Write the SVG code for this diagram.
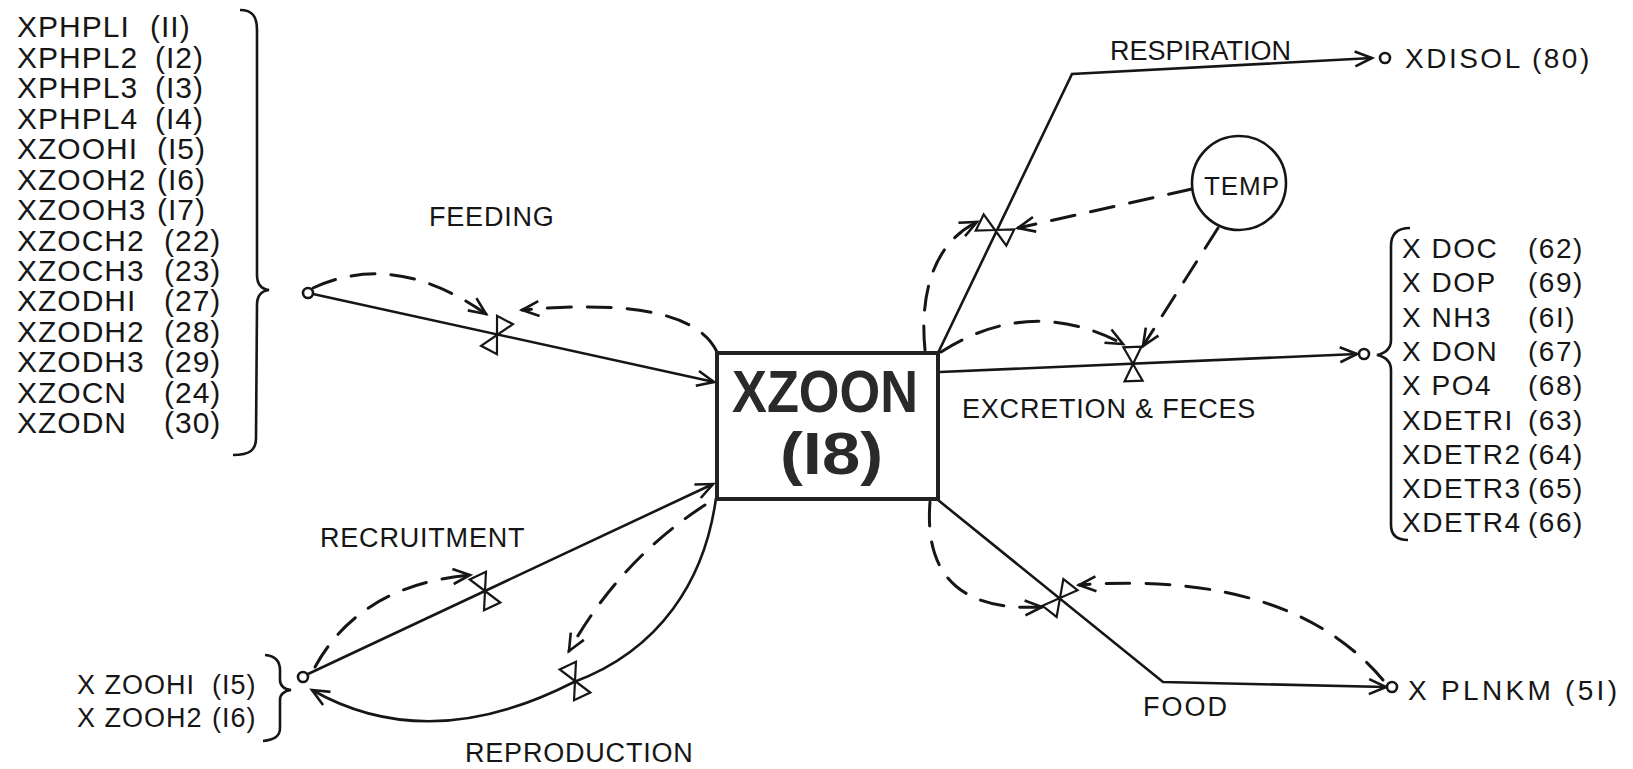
<svg xmlns="http://www.w3.org/2000/svg" xmlns:xlink="http://www.w3.org/1999/xlink" width="1633" height="769" viewBox="0 0 1633 769">
<style>
  text { font-family: "Liberation Sans", Arial, sans-serif; fill: #161616; }
  .lst { font-size: 30px; letter-spacing: 1px; }
  .rl { font-size: 28px; letter-spacing: 1.5px; }
  .lbl { font-size: 27px; letter-spacing: 0.8px; }
  .big { font-size: 60px; font-weight: bold; fill: #2a2a2a; }
  .flow { fill: none; stroke: #161616; stroke-width: 2.6; stroke-linejoin: miter; }
  .info { fill: none; stroke: #161616; stroke-width: 3; stroke-dasharray: 24 16; stroke-linecap: round; }
  .brace { fill: none; stroke: #161616; stroke-width: 2.6; }
  .src { fill: #fff; stroke: #161616; stroke-width: 2.6; }
  .valve { fill: #fff; stroke: #161616; stroke-width: 2.2; stroke-linejoin: miter; }
</style>
<defs>
  <marker id="arr" markerWidth="22" markerHeight="18" refX="19" refY="9" orient="auto" markerUnits="userSpaceOnUse">
    <path d="M2,1.5 L19,9 L2,16.5" fill="none" stroke="#161616" stroke-width="2.6"/>
  </marker>
  <g id="vsym">
    <path class="valve" d="M0,0 L-9,-17 L9,-17 Z"/>
    <path class="valve" d="M0,0 L-9,17 L9,17 Z"/>
  </g>
</defs>
<rect width="1633" height="769" fill="#fff"/>

<!-- connectors -->
<g id="connectors">
  <!-- solid flows -->
  <path class="flow" d="M313,294 L714,382" marker-end="url(#arr)"/>
  <path class="flow" d="M938,353 L1072,74 L1372,58" marker-end="url(#arr)"/>
  <path class="flow" d="M940,372 L1357,354" marker-end="url(#arr)"/>
  <path class="flow" d="M938,500 L1163,682 L1386,687" marker-end="url(#arr)"/>
  <path class="flow" d="M308,674 L713,484" marker-end="url(#arr)"/>
  <path class="flow" d="M716,498 C705,580 660,650 574,682 C490,725 400,740 312,690" marker-end="url(#arr)"/>
  <!-- dashed information links -->
  <path class="info" d="M313,288 Q395,250 486,314" marker-end="url(#arr)"/>
  <path class="info" d="M717,352 Q690,295 522,310" marker-end="url(#arr)"/>
  <path class="info" d="M925,350 C920,300 930,245 977,222" marker-end="url(#arr)"/>
  <path class="info" d="M1192,189 L1018,228" marker-end="url(#arr)"/>
  <path class="info" d="M941,352 Q1030,295 1123,344" marker-end="url(#arr)"/>
  <path class="info" d="M1218,228 L1143,346" marker-end="url(#arr)"/>
  <path class="info" d="M930,502 C925,565 950,612 1042,607" marker-end="url(#arr)"/>
  <path class="info" d="M1383,680 Q1290,570 1079,585" marker-end="url(#arr)"/>
  <path class="info" d="M315,667 Q360,585 470,575" marker-end="url(#arr)"/>
  <path class="info" d="M705,505 Q620,560 569,651" marker-end="url(#arr)"/>
</g>

<!-- rate valves -->
<g id="valve-feeding"><use xlink:href="#vsym" href="#vsym" transform="translate(497,335) rotate(28)"/></g>
<g id="valve-respiration"><use xlink:href="#vsym" href="#vsym" transform="translate(995,230) rotate(-64)"/></g>
<g id="valve-excretion"><use xlink:href="#vsym" href="#vsym" transform="translate(1133,364) rotate(-2)"/></g>
<g id="valve-food"><use xlink:href="#vsym" href="#vsym" transform="translate(1060,598) rotate(38)"/></g>
<g id="valve-recruitment"><use xlink:href="#vsym" href="#vsym" transform="translate(485,591) rotate(-25)"/></g>
<g id="valve-reproduction"><use xlink:href="#vsym" href="#vsym" transform="translate(575,681) rotate(-25)"/></g>

<!-- flow labels -->
<g id="labels">
  <text class="lbl" x="429" y="226">FEEDING</text>
  <text class="lbl" x="1110" y="60" style="letter-spacing:0">RESPIRATION</text>
  <text class="lbl" x="962" y="418">EXCRETION &amp; FECES</text>
  <text class="lbl" x="320" y="547">RECRUITMENT</text>
  <text class="lbl" x="465" y="762">REPRODUCTION</text>
  <text class="lbl" x="1143" y="716" style="letter-spacing:2px">FOOD</text>
</g>

<!-- central level -->
<g id="node-xzoon">
  <rect x="717" y="353" width="221" height="146" fill="#fff" stroke="#222" stroke-width="4"/>
  <text class="big" x="732" y="412" textLength="186" lengthAdjust="spacingAndGlyphs">XZOON</text>
  <text class="big" x="780" y="474" textLength="103" lengthAdjust="spacingAndGlyphs">(I8)</text>
</g>

<!-- feeding source list -->
<g id="node-feeding-sources">
  <text class="lst" x="17" y="37">XPHPLI<tspan x="150">(II)</tspan></text>
  <text class="lst" x="17" y="68">XPHPL2<tspan x="155">(I2)</tspan></text>
  <text class="lst" x="17" y="98">XPHPL3<tspan x="155">(I3)</tspan></text>
  <text class="lst" x="17" y="129">XPHPL4<tspan x="155">(I4)</tspan></text>
  <text class="lst" x="17" y="159">XZOOHI<tspan x="157">(I5)</tspan></text>
  <text class="lst" x="17" y="190">XZOOH2<tspan x="157">(I6)</tspan></text>
  <text class="lst" x="17" y="220">XZOOH3<tspan x="157">(I7)</tspan></text>
  <text class="lst" x="17" y="251">XZOCH2<tspan x="164">(22)</tspan></text>
  <text class="lst" x="17" y="281">XZOCH3<tspan x="164">(23)</tspan></text>
  <text class="lst" x="17" y="311">XZODHI<tspan x="164">(27)</tspan></text>
  <text class="lst" x="17" y="342">XZODH2<tspan x="164">(28)</tspan></text>
  <text class="lst" x="17" y="372">XZODH3<tspan x="164">(29)</tspan></text>
  <text class="lst" x="17" y="403">XZOCN<tspan x="164">(24)</tspan></text>
  <text class="lst" x="17" y="433">XZODN<tspan x="164">(30)</tspan></text>
  <path class="brace" d="M240,10 C252,10 257,16 257,30 L257,275 C257,284 261,289 269,290 C261,291 257,296 257,305 L256,438 C256,450 250,455 233,455"/>
  <circle class="src" cx="308" cy="293" r="5"/>
</g>

<!-- respiration sink -->
<g id="node-xdisol">
  <circle class="src" cx="1385" cy="58" r="5"/>
  <text class="rl" x="1405" y="68" style="letter-spacing:2.5px">XDISOL (80)</text>
</g>

<!-- temperature -->
<g id="node-temp">
  <circle cx="1239" cy="183" r="47" fill="#fff" stroke="#161616" stroke-width="2.6"/>
  <text x="1242" y="195" text-anchor="middle" style="font-size:26px;letter-spacing:1px">TEMP</text>
</g>

<!-- excretion sinks -->
<g id="node-excretion-sinks">
  <circle class="src" cx="1364" cy="354" r="5"/>
  <path class="brace" d="M1410,228 C1397,228 1391,234 1391,246 L1391,340 C1391,348 1386,353 1377,355 C1386,357 1391,362 1391,370 L1391,525 C1391,535 1397,540 1408,540"/>
  <text class="rl" x="1402" y="258">X DOC<tspan x="1528">(62)</tspan></text>
  <text class="rl" x="1402" y="292">X DOP<tspan x="1528">(69)</tspan></text>
  <text class="rl" x="1402" y="327">X NH3<tspan x="1528">(6I)</tspan></text>
  <text class="rl" x="1402" y="361">X DON<tspan x="1528">(67)</tspan></text>
  <text class="rl" x="1402" y="395">X PO4<tspan x="1528">(68)</tspan></text>
  <text class="rl" x="1402" y="430">XDETRI<tspan x="1528">(63)</tspan></text>
  <text class="rl" x="1402" y="464">XDETR2<tspan x="1528">(64)</tspan></text>
  <text class="rl" x="1402" y="498">XDETR3<tspan x="1528">(65)</tspan></text>
  <text class="rl" x="1402" y="532">XDETR4<tspan x="1528">(66)</tspan></text>
</g>

<!-- food source -->
<g id="node-xplnkm">
  <circle class="src" cx="1392" cy="687" r="5"/>
  <text class="rl" x="1408" y="700" style="letter-spacing:3.3px">X PLNKM (5I)</text>
</g>

<!-- recruitment/reproduction pool -->
<g id="node-xzooh">
  <circle class="src" cx="303" cy="677" r="5"/>
  <path class="brace" d="M265,655 C276,656 280,662 280,670 L280,680 C280,686 284,689 291,690 C284,691 280,694 280,700 L280,728 C280,736 275,740 263,741"/>
  <text class="lst" x="77" y="694" style="font-size:27px">X ZOOHI<tspan x="212">(I5)</tspan></text>
  <text class="lst" x="77" y="727" style="font-size:27px">X ZOOH2<tspan x="212">(I6)</tspan></text>
</g>
</svg>
